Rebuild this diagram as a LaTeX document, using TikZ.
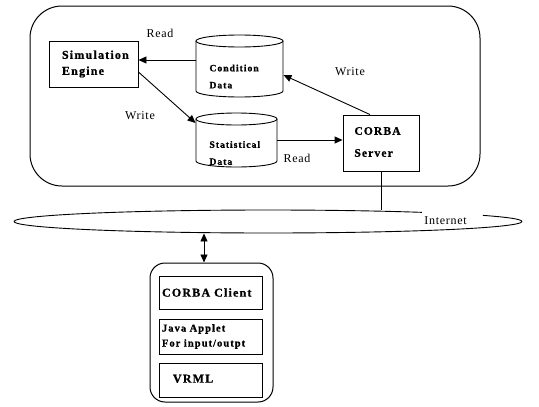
\documentclass[tikz,border=0pt]{standalone}
\usepackage{fontspec}
\setmainfont{Liberation Serif}
\newfontfamily\widefont[LetterSpace=6]{Liberation Serif}
\newfontfamily\boldwide[LetterSpace=10, FakeBold=1]{Liberation Serif}
\usetikzlibrary{arrows.meta,shapes.geometric,calc}

% data store drawn as a cylinder: left, top, right, bottom
\newcommand\datadrum[4]{%
  \draw ({(#1+#3)/2},#2+6) ellipse [x radius={(#3-#1)/2}, y radius=6];
  \draw (#1,#2+6) -- (#1,#4-6)
    arc[start angle=180, end angle=0, x radius={(#3-#1)/2}, y radius=6]
    -- (#3,#2+6);
}

\begin{document}
\begin{tikzpicture}[x=1pt, y=-1pt, line width=0.9pt,
  box/.style={draw, rectangle, inner sep=3pt},
  arr/.style={-{Triangle[length=8pt,width=7pt]}},
  biarr/.style={{Triangle[length=8pt,width=7pt]}-{Triangle[length=8pt,width=7pt]}},
  lbl/.style={font=\widefont\fontsize{12}{14}\selectfont, inner sep=0},
  btxt/.style={font=\boldwide\bfseries\fontsize{12}{16}\selectfont, align=left},
  ctxt/.style={font=\boldwide\bfseries\fontsize{9.7}{17}\selectfont, align=left, inner sep=0}]

\useasboundingbox (0,0) rectangle (539,407);

% server side enclosure
\node[draw, line width=1pt, rounded corners=32pt, minimum width=450pt,
      minimum height=180pt, inner sep=0] (server) at (255,96) {};

% simulation engine
\node[box, btxt, minimum width=89pt, minimum height=46pt, text width=63pt]
  (sim) at (93.5,64) {Simulation\\Engine};

% condition data store
\node[minimum width=87pt, minimum height=62pt, inner sep=0] (cond) at (239.5,66) {};
\datadrum{196}{35}{283}{97}
\node[ctxt, anchor=west] (condtxt) at (209,76.5) {Condition\\Data};

% statistical data store
\node[minimum width=81pt, minimum height=54pt, inner sep=0] (stat) at (236.5,140) {};
\datadrum{196}{113}{277}{167}
\node[ctxt, anchor=west] (stattxt) at (209,153) {Statistical\\Data};

% CORBA server
\node[box, minimum width=76pt, minimum height=56pt, inner sep=0] (corba) at (381,143) {};
\node[font=\boldwide\bfseries\fontsize{11.5}{22}\selectfont, align=left, anchor=west, inner sep=0]
  (corbatxt) at (354,142) {CORBA\\Server};

% flows between the server components
\draw[arr] ([yshift=6pt]cond.west) -- ([yshift=4pt]sim.east);
\draw[arr] ([yshift=-8pt]sim.east) -- ([yshift=17pt]stat.west);
\draw[arr] ([xshift=-11pt]corba.north) -- ([yshift=-9pt]cond.east);
\draw[arr] (stat.east) -- ([yshift=3pt]corba.west);

\node[lbl] (read1) at (160,33) {Read};
\node[lbl] (write1) at (140,116) {Write};
\node[lbl] (write2) at (350,72) {Write};
\node[lbl] (read2) at (297,158) {Read};

% internet backbone, outline broken behind its label
\node[ellipse, minimum width=508pt, minimum height=23pt, inner sep=0] (inet) at (268,221.5) {};
\draw (inet.center) ++(327.8:254 and 11.5)
  arc[start angle=327.8, end angle=667.3, x radius=254, y radius=11.5];
\node[lbl] (inetlbl) at (445.5,221) {Internet};

\draw (corba.south) -- (corba.south |- inet.north);

% client side
\node[draw, line width=1pt, rounded corners=15pt, minimum width=123pt,
      minimum height=139pt, inner sep=0] (client) at (211.5,332.5) {};
\node[box, btxt, minimum width=103pt, minimum height=33pt, text width=97pt]
  (cclient) at (210.5,292.5) {CORBA Client};
\node[box, btxt, font=\boldwide\bfseries\fontsize{10.5}{15}\selectfont,
      minimum width=103pt, minimum height=35pt, text width=97pt]
  (applet) at (210.5,336.5) {Java Applet\\For input/outpt};
\node[box, btxt, minimum width=103pt, minimum height=34pt, text width=97pt]
  (vrml) at (210.5,380) {\hspace*{11pt}VRML\vphantom{g}};

\draw[biarr] ([xshift=-7.5pt]client.north) -- ([xshift=-7.5pt]client.north |- inet.south);

\end{tikzpicture}
\end{document}
